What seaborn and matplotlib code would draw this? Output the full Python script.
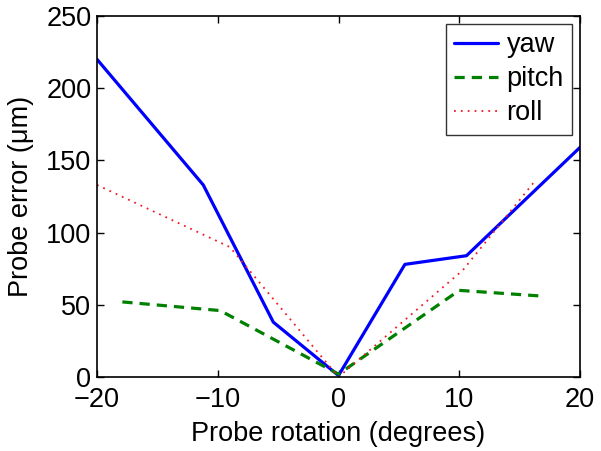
import matplotlib
matplotlib.use("Agg")
import matplotlib.pyplot as plt
import seaborn as sns
import pandas as pd

yaw_x = [-20, -11.2, -5.4, 0, 5.5, 10.6, 20]
yaw_y = [220, 133, 38, 1, 78, 84, 159]
pitch_x = [-17.9, -9.8, 0, 10, 16.9]
pitch_y = [52, 46, 2, 60, 56]
roll_x = [-20, -9, 0, 10.3, 16.2]
roll_y = [133, 90, 0, 74, 135]

sns.set_theme(style="white")
plt.rcParams['font.family'] = ['Liberation Sans', 'DejaVu Sans']
plt.rcParams['text.color'] = 'black'
plt.rcParams['axes.labelcolor'] = 'black'

FS = 19.5

fig = plt.figure(figsize=(6.01, 4.51), dpi=100)
ax = fig.add_axes([97/601, 1 - 377/451, 483/601, 361/451])

df_yaw = pd.DataFrame({"x": yaw_x, "y": yaw_y})
df_pitch = pd.DataFrame({"x": pitch_x, "y": pitch_y})
df_roll = pd.DataFrame({"x": roll_x, "y": roll_y})

sns.lineplot(data=df_yaw, x="x", y="y", ax=ax, color=(0, 0, 1), lw=2.3,
             linestyle='-', label="yaw", sort=False)
sns.lineplot(data=df_pitch, x="x", y="y", ax=ax, color=(0, 0.5, 0), lw=2.3,
             linestyle=(0, (3.2, 2.2)), label="pitch", sort=False)
sns.lineplot(data=df_roll, x="x", y="y", ax=ax, color=(0.95, 0.1, 0.15), lw=1.3,
             linestyle=(0, (1, 2.8)), label="roll", sort=False)

ax.set_xlim(-20, 20)
ax.set_ylim(0, 250)
ax.set_xticks([-20, -10, 0, 10, 20])
ax.set_xticklabels(["\u221220", "\u221210", "0", "10", "20"])
ax.set_yticks([0, 50, 100, 150, 200, 250])
ax.tick_params(direction='in', length=5, width=1, top=True, right=True,
               labelsize=FS, colors='black', bottom=True, left=True)
ax.tick_params(axis='x', pad=7)
ax.tick_params(axis='y', pad=4)
for s in ax.spines.values():
    s.set_color('black')
    s.set_linewidth(1.2)
ax.set_xlabel("Probe rotation (degrees)", fontsize=FS, color='black', labelpad=6)
ax.set_ylabel("Probe error (\u03bcm)", fontsize=FS, color='black', labelpad=8.5)

leg = ax.legend(loc='upper right', fontsize=FS, frameon=True, fancybox=False,
                edgecolor='black', handlelength=1.6, handletextpad=0.33,
                borderpad=0.3, labelspacing=0.3, borderaxespad=0.3)
leg.get_frame().set_linewidth(1.0)
for t in leg.get_texts():
    t.set_color('black')

fig.savefig("out.png", dpi=100)
